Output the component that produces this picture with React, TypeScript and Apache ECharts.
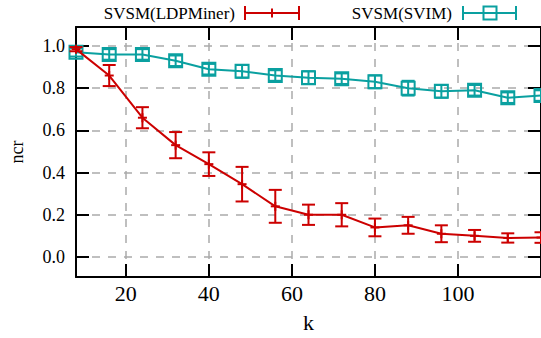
import React, { useEffect, useRef } from "react";
import * as echarts from "echarts";

const kValues = [8, 16, 24, 32, 40, 48, 56, 64, 72, 80, 88, 96, 104, 112, 120];
const ldpValues = [0.985, 0.86, 0.66, 0.53, 0.44, 0.345, 0.24, 0.2, 0.2, 0.14, 0.15, 0.11, 0.1, 0.09, 0.092];
const ldpErrors = [0.01, 0.05, 0.05, 0.062, 0.056, 0.082, 0.078, 0.048, 0.055, 0.042, 0.04, 0.04, 0.028, 0.022, 0.025];
const svimValues = [0.97, 0.96, 0.96, 0.93, 0.89, 0.88, 0.86, 0.85, 0.845, 0.83, 0.8, 0.785, 0.79, 0.755, 0.765];
const svimErrors = [0.02, 0.025, 0.025, 0.025, 0.025, 0.03, 0.025, 0.03, 0.025, 0.03, 0.035, 0.03, 0.025, 0.025, 0.025];
const xTicks = [20, 40, 60, 80, 100];
const yTicks = [0, 0.2, 0.4, 0.6, 0.8, 1.0];
const seriesNames = ["SVSM(LDPMiner)", "SVSM(SVIM)"];

const RED = "#cc0000";
const TEAL = "#0aa0a0";
const FONT = "Times New Roman, Liberation Serif, DejaVu Serif, serif";

function errorRenderer(color: string, marker: "plus" | "square") {
  return (params: any, api: any) => {
    const x = api.value(0);
    const lo = api.value(1);
    const hi = api.value(2);
    const v = api.value(3);
    const pLo = api.coord([x, lo]);
    const pHi = api.coord([x, hi]);
    const pC = api.coord([x, v]);
    const w = 6.5;
    const st = { stroke: color, lineWidth: 2, fill: "none" };
    const children: any[] = [
      { type: "line", shape: { x1: pLo[0], y1: pLo[1], x2: pHi[0], y2: pHi[1] }, style: st },
      { type: "line", shape: { x1: pLo[0] - w, y1: pLo[1], x2: pLo[0] + w, y2: pLo[1] }, style: st },
      { type: "line", shape: { x1: pHi[0] - w, y1: pHi[1], x2: pHi[0] + w, y2: pHi[1] }, style: st },
    ];
    if (marker === "plus") {
      const m = 4.5;
      children.push({ type: "line", shape: { x1: pC[0] - m, y1: pC[1], x2: pC[0] + m, y2: pC[1] }, style: st });
      children.push({ type: "line", shape: { x1: pC[0], y1: pC[1] - m, x2: pC[0], y2: pC[1] + m }, style: st });
    } else {
      const s = 6.5;
      children.push({ type: "rect", shape: { x: pC[0] - s, y: pC[1] - s, width: 2 * s, height: 2 * s }, style: st });
    }
    return { type: "group", children };
  };
}

export default function App() {
  const ref = useRef<HTMLDivElement>(null);
  useEffect(() => {
    if (!ref.current) return;
    const chart = echarts.init(ref.current, null, { renderer: "svg" });
    const ldpData = kValues.map((k, i) => [k, ldpValues[i]]);
    const svimData = kValues.map((k, i) => [k, svimValues[i]]);
    const ldpErr = kValues.map((k, i) => [k, ldpValues[i] - ldpErrors[i], ldpValues[i] + ldpErrors[i], ldpValues[i]]);
    const svimErr = kValues.map((k, i) => [k, svimValues[i] - svimErrors[i], svimValues[i] + svimErrors[i], svimValues[i]]);

    const axisLine = { show: true, onZero: false, lineStyle: { color: "#000", width: 2 } };
    const tickStyle = { color: "#000", width: 2 };
    const splitLine = { show: true, lineStyle: { color: "#aaaaaa", width: 1.5, type: [8, 8] as any } };

    chart.setOption({
      animation: false,
      backgroundColor: "#fff",
      grid: { left: 75, top: 27, width: 468, height: 251, containLabel: false },
      xAxis: [
        {
          type: "value",
          position: "bottom",
          min: 8,
          max: 120,
          axisLine,
          axisTick: { show: true, inside: true, length: 13, lineStyle: tickStyle, customValues: xTicks },
          axisLabel: { customValues: xTicks, color: "#000", fontFamily: FONT, fontSize: 22, margin: 5 },
          splitLine,
          name: "k",
          nameLocation: "middle",
          nameGap: 34,
          nameTextStyle: { color: "#000", fontFamily: FONT, fontSize: 22 },
        },
        {
          type: "value",
          position: "top",
          min: 8,
          max: 120,
          axisLine,
          axisTick: { show: true, inside: true, length: 13, lineStyle: tickStyle, customValues: xTicks },
          axisLabel: { show: false },
          splitLine: { show: false },
        },
      ],
      yAxis: [
        {
          type: "value",
          position: "left",
          min: -0.095,
          max: 1.09,
          axisLine,
          axisTick: { show: true, inside: true, length: 13, lineStyle: tickStyle, customValues: yTicks },
          axisLabel: {
            customValues: yTicks,
            color: "#000",
            fontFamily: FONT,
            fontSize: 18,
            margin: 11,
            formatter: (v: number) => v.toFixed(1),
          },
          splitLine,
          name: "ncr",
          nameLocation: "middle",
          nameRotate: 90,
          nameGap: 50,
          nameTextStyle: { color: "#000", fontFamily: FONT, fontSize: 18 },
        },
        {
          type: "value",
          position: "right",
          min: -0.095,
          max: 1.09,
          axisLine,
          axisTick: { show: true, inside: true, length: 13, lineStyle: tickStyle, customValues: yTicks },
          axisLabel: { show: false },
          splitLine: { show: false },
        },
      ],
      series: [
        {
          name: seriesNames[1],
          type: "line",
          data: svimData,
          symbol: "none",
          lineStyle: { color: TEAL, width: 2 },
          z: 3,
        },
        {
          name: seriesNames[1] + " err",
          type: "custom",
          data: svimErr,
          renderItem: errorRenderer(TEAL, "square"),
          encode: { x: 0, y: [1, 2] },
          z: 3,
        },
        {
          name: seriesNames[0],
          type: "line",
          data: ldpData,
          symbol: "none",
          lineStyle: { color: RED, width: 2 },
          z: 4,
        },
        {
          name: seriesNames[0] + " err",
          type: "custom",
          data: ldpErr,
          renderItem: errorRenderer(RED, "plus"),
          encode: { x: 0, y: [1, 2] },
          z: 4,
        },
      ],
      graphic: [
        {
          type: "text",
          x: 235,
          y: 13.5,
          style: { text: seriesNames[0], fill: "#000", fontFamily: FONT, fontSize: 17, align: "right", verticalAlign: "middle" },
        },
        { type: "line", shape: { x1: 245, y1: 13, x2: 299, y2: 13 }, style: { stroke: RED, lineWidth: 2 } },
        { type: "line", shape: { x1: 245, y1: 6, x2: 245, y2: 20 }, style: { stroke: RED, lineWidth: 2 } },
        { type: "line", shape: { x1: 299, y1: 6, x2: 299, y2: 20 }, style: { stroke: RED, lineWidth: 2 } },
        { type: "line", shape: { x1: 272, y1: 8.5, x2: 272, y2: 17.5 }, style: { stroke: RED, lineWidth: 2 } },
        {
          type: "text",
          x: 452,
          y: 13.5,
          style: { text: seriesNames[1], fill: "#000", fontFamily: FONT, fontSize: 17, align: "right", verticalAlign: "middle" },
        },
        { type: "line", shape: { x1: 463, y1: 13, x2: 516, y2: 13 }, style: { stroke: TEAL, lineWidth: 2 } },
        { type: "line", shape: { x1: 463, y1: 6, x2: 463, y2: 20 }, style: { stroke: TEAL, lineWidth: 2 } },
        { type: "line", shape: { x1: 516, y1: 6, x2: 516, y2: 20 }, style: { stroke: TEAL, lineWidth: 2 } },
        {
          type: "rect",
          shape: { x: 483.5, y: 6.5, width: 13, height: 13 },
          style: { stroke: TEAL, lineWidth: 2, fill: "none" },
        },
      ],
    });
    return () => chart.dispose();
  }, []);
  return (
    <div
      ref={ref}
      style={{ position: "absolute", left: 0, top: 0, width: 541, height: 338, background: "#fff" }}
    />
  );
}
